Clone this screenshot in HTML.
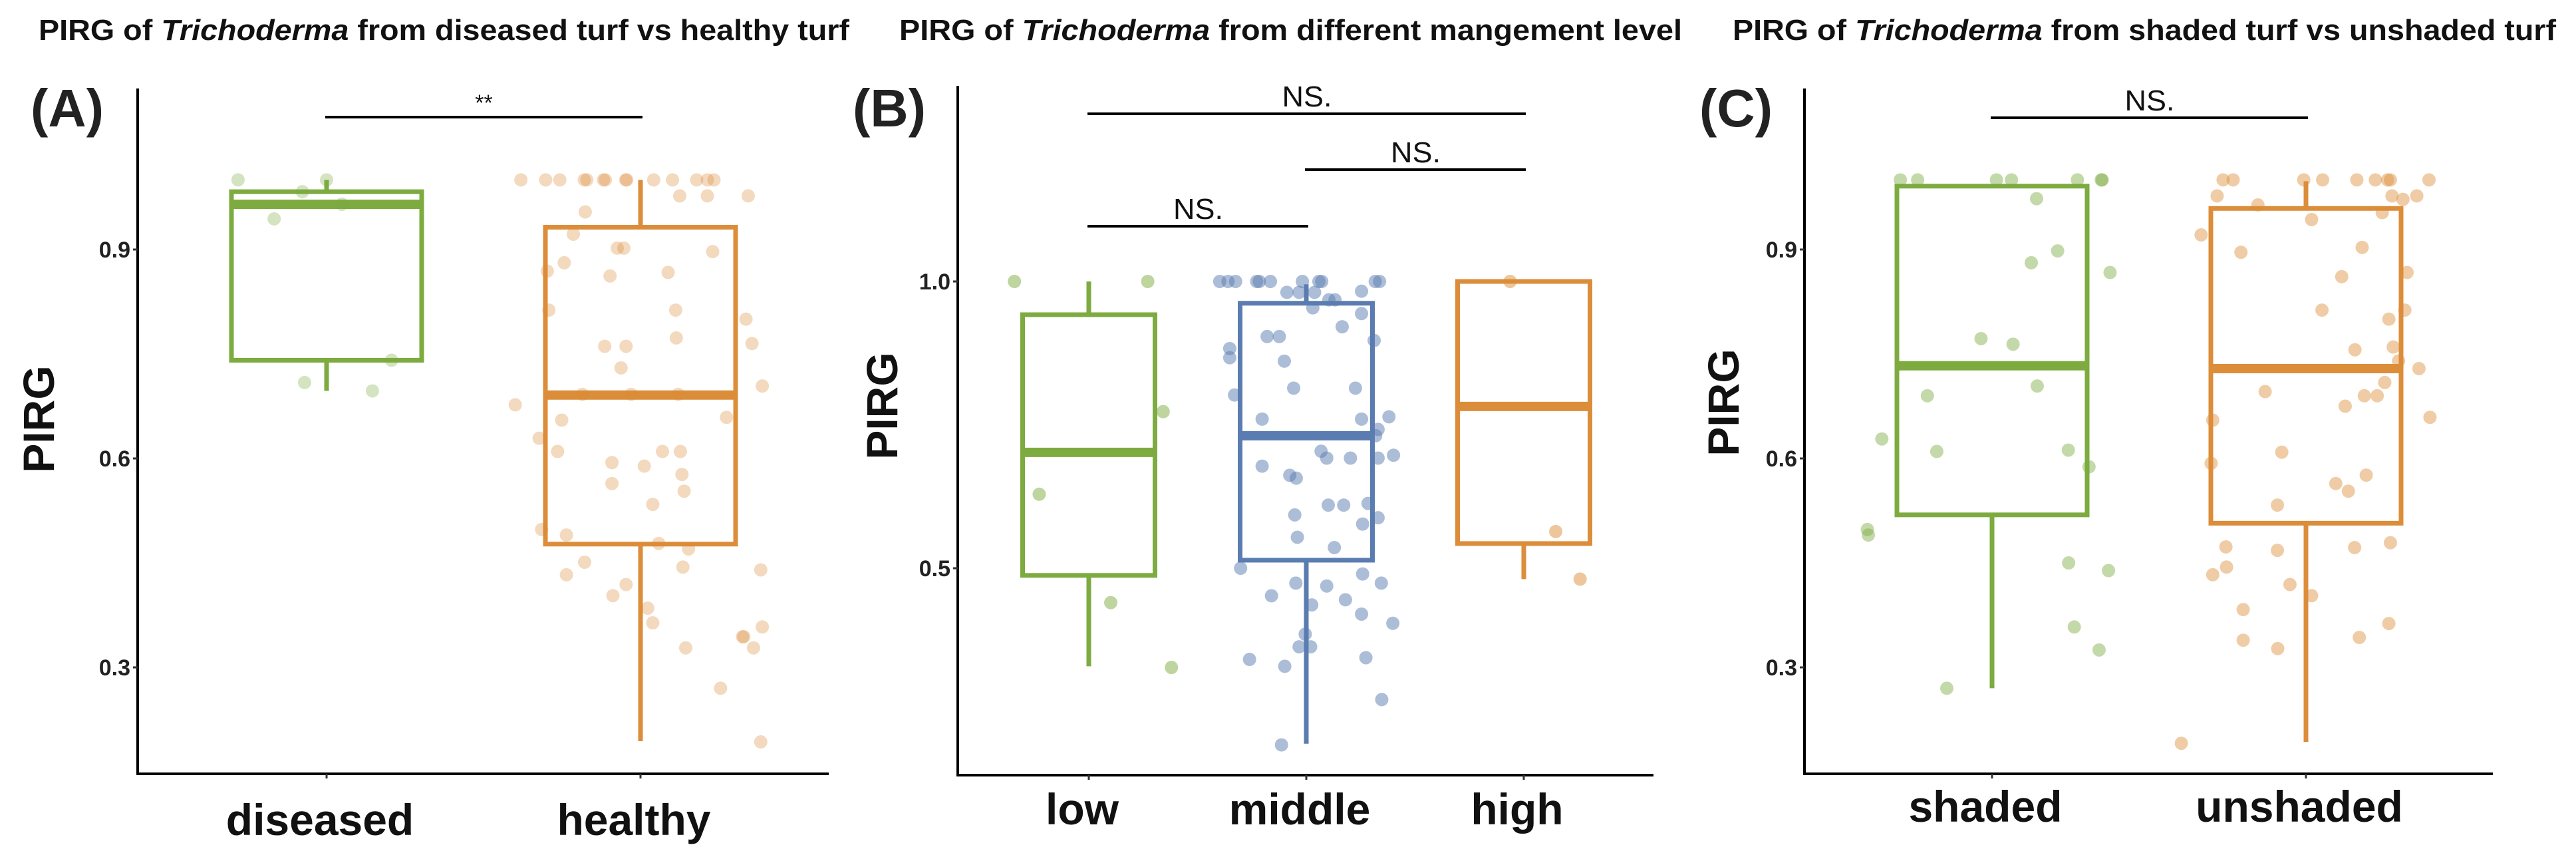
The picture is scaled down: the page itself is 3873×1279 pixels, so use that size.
<!DOCTYPE html>
<html><head><meta charset="utf-8">
<style>
html,body{margin:0;padding:0;background:#fff;}
svg{display:block;font-family:"Liberation Sans",Arial,sans-serif;}
</style></head>
<body>
<svg id="chart" width="3873" height="1279" viewBox="0 0 3873 1279" xmlns="http://www.w3.org/2000/svg"></svg>
<script>
// ---------- Panel A data ----------
const aCats = ["diseased","healthy"];
const aTicks = [0.3,0.6,0.9];
const aBoxDiseased = [0.697,0.741,0.965,0.983,1.0]; // min,q1,med,q3,max
const aBoxHealthy = [0.194,0.477,0.691,0.932,1.0];
const aPtsDiseasedV = [1.0,1.0,0.983,0.944,0.965,0.741,0.709,0.697];
const aPtsDiseasedJ = [-0.282,0.0,-0.077,-0.167,0.049,0.207,-0.070,0.146];
const aPtsHealthyV = [1.0,1.0,1.0,1.0,1.0,1.0,1.0,1.0,1.0,1.0,1.0,1.0,1.0,1.0,
 0.977,0.977,0.977,0.954,0.922,0.902,0.902,0.897,0.881,0.869,0.862,0.867,0.813,0.813,0.800,0.773,0.765,0.761,0.761,0.730,0.704,0.677,0.692,0.692,0.692,0.659,0.655,0.629,0.610,0.610,0.610,0.594,0.589,0.577,0.564,0.553,0.534,0.498,0.490,0.478,0.470,0.451,0.444,0.440,0.433,0.419,0.403,0.385,0.364,0.358,0.344,0.344,0.328,0.328,0.270,0.193];
const aPtsHealthyJ = [-0.381,-0.302,-0.257,-0.179,-0.171,-0.118,-0.112,-0.047,-0.044,0.042,0.102,0.179,0.213,0.234,
 0.125,0.213,0.343,-0.176,-0.214,-0.074,-0.053,0.230,-0.243,-0.297,-0.097,0.088,-0.292,0.112,0.336,0.114,0.355,-0.114,-0.046,-0.062,0.388,-0.399,-0.185,-0.030,0.120,0.274,-0.251,-0.323,-0.264,0.070,0.127,-0.091,0.012,0.132,-0.091,0.139,0.039,-0.315,-0.236,0.058,0.153,-0.178,0.135,0.383,-0.236,-0.046,-0.088,0.023,0.039,0.388,0.325,0.329,0.144,0.360,0.255,0.383];

// ---------- Panel B data ----------
const bCats = ["low","middle","high"];
const bTicks = [0.5,1.0];
const bBoxLow = [0.329,0.4875,0.702,0.942,1.0];
const bBoxMiddle = [0.194,0.514,0.731,0.962,0.995];
const bBoxHigh = [0.481,0.543,0.782,1.0,1.0];
const bPtsLowV = [1.0,1.0,0.773,0.629,0.440,0.327];
const bPtsLowJ = [-0.342,0.271,0.342,-0.228,0.101,0.380];
const bPtsHighV = [1.0,0.564,0.481];
const bPtsHighJ = [-0.063,0.147,0.259];
const bPtsMiddleV = [1.0,1.0,1.0,1.0,1.0,1.0,1.0,1.0,1.0,1.0,1.0,
 0.981,0.981,0.981,0.968,0.968,0.983,0.954,0.944,0.921,0.904,0.904,0.897,0.883,0.867,0.861,0.814,0.814,0.802,0.764,0.760,0.760,0.742,0.731,0.704,0.697,0.692,0.692,0.692,0.678,0.662,0.657,0.613,0.610,0.610,0.593,0.588,0.577,0.554,0.536,0.500,0.490,0.474,0.474,0.469,0.452,0.445,0.436,0.420,0.404,0.385,0.363,0.363,0.344,0.341,0.329,0.271,0.192];
const bPtsMiddleJ = [-0.398,-0.360,-0.325,-0.228,-0.216,-0.165,-0.018,0.058,0.071,0.317,0.337,
 -0.089,-0.033,0.038,0.132,0.104,0.254,0.030,0.254,0.165,-0.180,-0.124,0.312,-0.352,-0.352,-0.101,-0.058,0.226,-0.330,0.380,-0.203,0.254,0.330,0.319,0.068,0.401,0.094,0.203,0.330,-0.203,-0.076,-0.046,0.284,0.101,0.172,-0.053,0.330,0.259,-0.041,0.129,-0.302,0.259,-0.048,0.345,0.094,-0.160,0.180,0.025,0.254,0.398,-0.005,-0.033,0.020,0.274,-0.261,-0.099,0.347,-0.114];

// ---------- Panel C data ----------
const cCats = ["shaded","unshaded"];
const cTicks = [0.3,0.6,0.9];
const cBoxShaded = [0.270,0.519,0.733,0.991,0.991];
const cBoxUnshaded = [0.193,0.507,0.729,0.959,0.998];
const cPtsShadedV = [1.0,1.0,1.0,1.0,1.0,1.0,1.0,0.973,0.898,0.881,0.867,0.772,0.764,0.704,0.690,0.628,0.610,0.612,0.588,0.498,0.490,0.450,0.439,0.358,0.325,0.270];
const cPtsShadedJ = [-0.292,-0.237,0.014,0.062,0.272,0.348,0.351,0.142,0.209,0.125,0.376,-0.035,0.067,0.144,-0.206,-0.351,-0.176,0.243,0.309,-0.397,-0.394,0.244,0.371,0.262,0.341,-0.144];
const cPtsUnshadedV = [1.0,1.0,1.0,1.0,1.0,1.0,1.0,1.0,1.0,0.977,0.977,0.977,0.972,0.964,0.953,0.943,0.921,0.903,0.896,0.867,0.861,0.813,0.813,0.800,0.760,0.756,0.740,0.729,0.709,0.696,0.690,0.690,0.675,0.659,0.655,0.609,0.593,0.576,0.564,0.553,0.533,0.479,0.473,0.472,0.468,0.444,0.433,0.419,0.403,0.383,0.363,0.343,0.339,0.327,0.191];
const cPtsUnshadedJ = [-0.264,-0.232,-0.007,0.053,0.162,0.221,0.260,0.269,0.392,-0.283,0.274,0.353,0.309,-0.153,0.243,0.018,-0.334,0.179,-0.207,0.322,0.114,0.051,0.315,0.264,0.278,0.156,0.295,0.360,0.251,-0.130,0.186,0.227,0.125,0.395,-0.297,-0.077,-0.302,0.192,0.095,0.135,-0.091,0.269,-0.255,0.155,-0.091,-0.253,-0.297,-0.051,0.018,-0.200,0.264,0.170,-0.200,-0.090,-0.397];

const GREEN="#7dab40", ORANGE="#dc8d3a", BLUE="#5a7cb0";
const NS="http://www.w3.org/2000/svg";
const svg=document.getElementById('chart');
function mk(tag,attrs,parent){const e=document.createElementNS(NS,tag);for(const k in attrs)e.setAttribute(k,attrs[k]);(parent||svg).appendChild(e);return e;}

function panel(cfg){
  const g=mk('g',{});
  
  
  const yS=v=>cfg.y0+(cfg.v0-v)*cfg.ppu;
  const xS=i=>cfg.xFirst+i*cfg.spacing;
  // title
  const t=mk('text',{x:cfg.titleX,y:60,'font-size':44,'font-weight':'bold',fill:'#111',textLength:cfg.titleW,lengthAdjust:'spacingAndGlyphs'},g);
  
  
  t.innerHTML='PIRG of <tspan font-style="italic">Trichoderma</tspan> '+cfg.titleRest;
  // panel letter
  const L=mk('text',{x:cfg.letterX,y:190,'font-size':80,'font-weight':'bold',fill:'#222',textLength:110,lengthAdjust:'spacingAndGlyphs'},g);
  
  
  L.textContent=cfg.letter;
  // axes
  const ya=mk('line',{x1:cfg.ax,y1:cfg.axTop,x2:cfg.ax,y2:cfg.axBot+2,stroke:'#000','stroke-width':4},g);
  
  
  const xa=mk('line',{x1:cfg.ax-2,y1:cfg.axBot,x2:cfg.axRight,y2:cfg.axBot,stroke:'#000','stroke-width':4},g);
  
  
  // y ticks
  cfg.ticks.forEach(tv=>{
    const y=yS(tv);
    const tk=mk('line',{x1:cfg.ax-7,y1:y,x2:cfg.ax,y2:y,stroke:'#333','stroke-width':3},g);
    
    
    const tl=mk('text',{x:cfg.ax-11,y:y+12,'text-anchor':'end','font-size':34,'font-weight':'bold',fill:'#222'},g);
    
    
    tl.textContent=tv.toFixed(1);
  });
  // y title
  const yt=mk('text',{x:0,y:0,'text-anchor':'middle','font-size':66,'font-weight':'bold',fill:'#111',transform:`translate(${cfg.yTitleX},${cfg.yTitleY}) rotate(-90)`},g);
  
  
  yt.textContent='PIRG';
  // categories
  cfg.cats.forEach((c,i)=>{
    const x=xS(i);
    const tk=mk('line',{x1:x,y1:cfg.axBot,x2:x,y2:cfg.axBot+7,stroke:'#333','stroke-width':3},g);
    
    
    const tl=mk('text',{x:x-10,y:cfg.xLabY,'text-anchor':'middle','font-size':66,'font-weight':'bold',fill:'#111'},g);
    
    
    tl.textContent=c;
  });
  // boxes
  cfg.boxes.forEach((b,i)=>{
    const x=xS(i), hw=cfg.boxW/2, col=cfg.colors[i];
    const bg=mk('g',{},g);
    
    
    if(b[4]-b[3]>0.012) mk('line',{x1:x,y1:yS(b[4]),x2:x,y2:yS(b[3]),stroke:col,'stroke-width':7},bg);
    mk('line',{x1:x,y1:yS(b[1]),x2:x,y2:yS(b[0]),stroke:col,'stroke-width':7},bg);
    mk('rect',{x:x-hw,y:yS(b[3]),width:cfg.boxW,height:yS(b[1])-yS(b[3]),fill:'#fff',stroke:col,'stroke-width':7},bg);
    mk('line',{x1:x-hw,y1:yS(b[2]),x2:x+hw,y2:yS(b[2]),stroke:col,'stroke-width':14},bg);
  });
  // points
  cfg.points.forEach((p,i)=>{
    const pg=mk('g',{},g);
    
    
    p.v.forEach((v,k)=>{
      const c=mk('circle',{cx:xS(i)+p.j[k]*cfg.spacing,cy:yS(v),r:10,fill:cfg.colors[i],'fill-opacity':cfg.alpha},pg);
      
      
    });
  });
  // significance brackets
  cfg.sig.forEach(s=>{
    const x1=xS(s.a)-2,x2=xS(s.b)+3,y=s.y;
    const l=mk('line',{x1:x1,y1:y,x2:x2,y2:y,stroke:'#000','stroke-width':4},g);
    
    
    let tx;
    if(s.label==='**'){
      tx=mk('text',{x:(x1+x2)/2,y:y-10,'text-anchor':'middle','font-size':34,fill:'#111'},g);
    } else {
      tx=mk('text',{x:(x1+x2)/2-37,y:y-11,'font-size':44,fill:'#111',textLength:75,lengthAdjust:'spacingAndGlyphs'},g);
    }
    
    
    tx.textContent=s.label;
  });
}

panel({name:'panel-a',letter:'(A)',letterX:46,titleX:58,titleW:1219,titleRest:'from diseased turf vs healthy turf',
  ax:207,axTop:133,axBot:1163,axRight:1246,v0:0.9,y0:375,ppu:1046.7,
  xFirst:491,spacing:472,boxW:286,ticks:aTicks,cats:aCats,yTitleX:81,yTitleY:630,xLabY:1255,
  colors:[GREEN,ORANGE],alpha:0.33,
  boxes:[aBoxDiseased,aBoxHealthy],
  points:[{v:aPtsDiseasedV,j:aPtsDiseasedJ},{v:aPtsHealthyV,j:aPtsHealthyJ}],
  sig:[{a:0,b:1,y:176,label:'**'}]});

panel({name:'panel-b',letter:'(B)',letterX:1282,titleX:1352,titleW:1177,titleRest:'from different mangement level',
  ax:1440,axTop:129,axBot:1165,axRight:2486,v0:1.0,y0:423,ppu:862,
  xFirst:1637,spacing:327,boxW:199,ticks:bTicks,cats:bCats,yTitleX:1349,yTitleY:610,xLabY:1239,
  colors:[GREEN,BLUE,ORANGE],alpha:0.5,
  boxes:[bBoxLow,bBoxMiddle,bBoxHigh],
  points:[{v:bPtsLowV,j:bPtsLowJ},{v:bPtsMiddleV,j:bPtsMiddleJ},{v:bPtsHighV,j:bPtsHighJ}],
  sig:[{a:0,b:2,y:171,label:'NS.'},{a:1,b:2,y:255,label:'NS.'},{a:0,b:1,y:340,label:'NS.'}]});

panel({name:'panel-c',letter:'(C)',letterX:2555,titleX:2605,titleW:1238,titleRest:'from shaded turf vs unshaded turf',
  ax:2713,axTop:133,axBot:1163,axRight:3748,v0:0.9,y0:375,ppu:1046.7,
  xFirst:2995,spacing:472,boxW:286,ticks:cTicks,cats:cCats,yTitleX:2614,yTitleY:605,xLabY:1235,
  colors:[GREEN,ORANGE],alpha:0.45,
  boxes:[cBoxShaded,cBoxUnshaded],
  points:[{v:cPtsShadedV,j:cPtsShadedJ},{v:cPtsUnshadedV,j:cPtsUnshadedJ}],
  sig:[{a:0,b:1,y:177,label:'NS.'}]});
</script>
</body></html>
